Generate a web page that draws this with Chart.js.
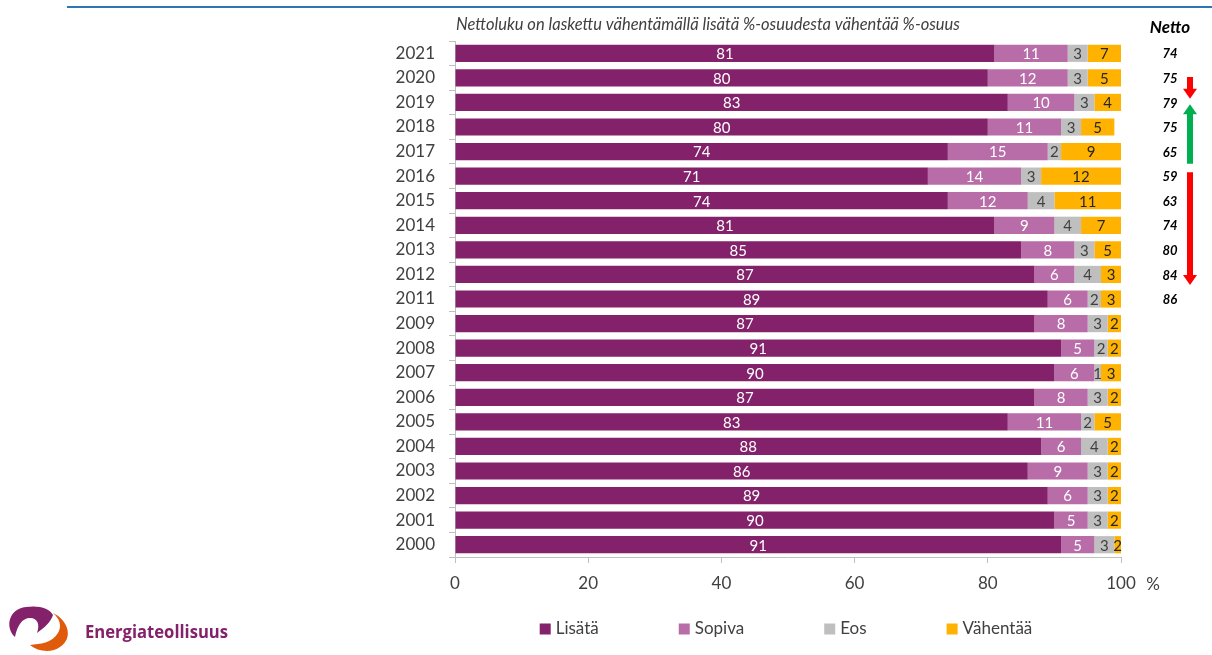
<!DOCTYPE html>
<html>
<head>
<meta charset="utf-8">
<script src="https://cdn.jsdelivr.net/npm/chart.js@4.4.1/dist/chart.umd.min.js"></script>
<style>
html, body { margin: 0; padding: 0; background: #fff; }
#wrap { position: relative; width: 1212px; height: 655px; overflow: hidden; }
#topline { position: absolute; left: 67px; top: 6px; width: 1145px; height: 2px; background: #2f75b5; }
#logo { position: absolute; left: 0; top: 600px; }
canvas { position: absolute; left: 0; top: 0; }
</style>
</head>
<body>
<div id="wrap">
  <canvas id="chart" width="1212" height="655"></canvas>
  <div id="topline"></div>
  <svg id="logo" width="240" height="55" viewBox="0 0 240 55">
    <path d="M15 37 C5 28, 8 9, 26 7 C38 5, 50 8, 53 15 C51 22, 44 28, 37 33 C40 25, 38 18, 30 18 C22 18, 17 26, 15 37 Z" fill="#84216B"/>
    <path d="M53 13 C68 20, 74 38, 60 47 C52 53, 38 52, 30 45 C40 44, 52 43, 58 33 C62 26, 60 19, 53 13 Z" fill="#E05A0C"/>
    <text x="85" y="38" font-family="Open Sans" font-weight="700" font-size="18" fill="#84216B"
          textLength="143" lengthAdjust="spacingAndGlyphs">Energiateollisuus</text>
  </svg>
</div>
<script>
const years    = ['2021','2020','2019','2018','2017','2016','2015','2014','2013','2012','2011',
                  '2009','2008','2007','2006','2005','2004','2003','2002','2001','2000'];
const lisata   = [81, 80, 83, 80, 74, 71, 74, 81, 85, 87, 89, 87, 91, 90, 87, 83, 88, 86, 89, 90, 91];
const sopiva   = [11, 12, 10, 11, 15, 14, 12,  9,  8,  6,  6,  8,  5,  6,  8, 11,  6,  9,  6,  5,  5];
const eos      = [ 3,  3,  3,  3,  2,  3,  4,  4,  3,  4,  2,  3,  2,  1,  3,  2,  4,  3,  3,  3,  3];
const vahentaa = [ 7,  5,  4,  5,  9, 12, 11,  7,  5,  3,  3,  2,  2,  3,  2,  5,  2,  2,  2,  2,  2];
const netto    = [74, 75, 79, 75, 65, 59, 63, 74, 80, 84, 86];   // 2021..2011

const FONT = 'Lato';
const textColor = '#404040';
const axisColor = '#bfbfbf';

// centered value in every bar segment (segments are clipped at 100 %)
const segLabels = {
    id: 'segLabels',
    afterDatasetsDraw(chart) {
        const ctx = chart.ctx;
        const right = chart.chartArea.right;
        ctx.save();
        ctx.font = `15px ${FONT}`;
        ctx.textAlign = 'center';
        ctx.textBaseline = 'middle';
        chart.data.datasets.forEach((ds, i) => {
            chart.getDatasetMeta(i).data.forEach((bar, j) => {
                const { x, y, base } = bar.getProps(['x', 'y', 'base'], true);
                ctx.fillStyle = ds.labelColor;
                ctx.fillText(ds.data[j], (Math.min(x, right) + base) / 2, y + 1);
            });
        });
        ctx.restore();
    },
};

function arrow(ctx, x, y0, y1, color) {
    const dir = Math.sign(y1 - y0);
    const head = 10, hw = 7, sw = 3;
    ctx.fillStyle = color;
    ctx.beginPath();
    ctx.moveTo(x - sw, y0);
    ctx.lineTo(x + sw, y0);
    ctx.lineTo(x + sw, y1 - dir * head);
    ctx.lineTo(x + hw, y1 - dir * head);
    ctx.lineTo(x, y1);
    ctx.lineTo(x - hw, y1 - dir * head);
    ctx.lineTo(x - sw, y1 - dir * head);
    ctx.closePath();
    ctx.fill();
}

// netto column, title texts, arrows, % sign and legend
const extras = {
    id: 'extras',
    afterDraw(chart) {
        const ctx = chart.ctx;
        const ys = chart.scales.y, xs = chart.scales.x;
        const area = chart.chartArea;
        const row = i => ys.getPixelForValue(0) + (ys.getPixelForValue(1) - ys.getPixelForValue(0)) * i;
        ctx.save();

        ctx.fillStyle = textColor;
        ctx.textBaseline = 'middle';
        ctx.textAlign = 'left';
        ctx.font = `italic 16.5px ${FONT}`;
        ctx.fillText('Nettoluku on laskettu vähentämällä lisätä %-osuudesta vähentää %-osuus', area.left + 1, 25);

        ctx.fillStyle = '#000';
        ctx.textAlign = 'center';
        ctx.font = `italic bold 17px ${FONT}`;
        ctx.fillText('Netto', 1170, 28);
        ctx.font = `italic bold 13px ${FONT}`;
        netto.forEach((v, i) => ctx.fillText(v, 1170, row(i) + 1));

        arrow(ctx, 1190, row(0.97), row(1.85), '#ff0000');
        arrow(ctx, 1190, row(4.5), row(2.07), '#00b050');
        arrow(ctx, 1190, row(4.84), row(9.43), '#ff0000');

        ctx.fillStyle = textColor;
        ctx.font = `17px ${FONT}`;
        ctx.fillText('%', xs.getPixelForValue(100) + 32, 585);

        // legend
        const items = chart.data.datasets.map(d => ({ text: d.label, color: d.backgroundColor }));
        const box = 11, gap = 5, pad = 80;
        ctx.font = `17px ${FONT}`;
        const widths = items.map(it => box + gap + ctx.measureText(it.text).width);
        const total = widths.reduce((a, b) => a + b, 0) + pad * (items.length - 1);
        let x = (area.left + area.right) / 2 - 2 - total / 2;
        const ly = 629;
        ctx.textAlign = 'left';
        items.forEach((it, i) => {
            ctx.fillStyle = it.color;
            ctx.fillRect(x, ly - box / 2, box, box);
            ctx.fillStyle = textColor;
            ctx.fillText(it.text, x + box + gap, ly);
            x += widths[i] + pad;
        });

        ctx.restore();
    },
};

const series = [
    ['Lisätä',   lisata,   '#84216b', '#ffffff'],
    ['Sopiva',   sopiva,   '#b86ca8', '#ffffff'],
    ['Eos',      eos,      '#bfbfbf', '#404040'],
    ['Vähentää', vahentaa, '#ffb300', '#262626'],
];

new Chart(document.getElementById('chart'), {
    type: 'bar',
    data: {
        labels: years,
        datasets: series.map(([label, data, color, labelColor]) => ({
            label, data, labelColor,
            backgroundColor: color,
            borderWidth: 0,
            barPercentage: 0.7,
            categoryPercentage: 1,
        })),
    },
    options: {
        indexAxis: 'y',
        responsive: false,
        animation: false,
        layout: { padding: { top: 41, right: 91, left: 0, bottom: 0 } },
        plugins: { legend: { display: false }, tooltip: { enabled: false } },
        scales: {
            x: {
                stacked: true,
                min: 0,
                max: 100,
                ticks: { stepSize: 20, color: textColor, font: { family: FONT, size: 17 }, padding: 10 },
                grid: { drawOnChartArea: false, tickLength: 6, color: axisColor },
                border: { color: axisColor },
                afterFit(scale) { scale.height = 98; },
            },
            y: {
                stacked: true,
                ticks: { color: textColor, font: { family: FONT, size: 17 }, padding: 14 },
                grid: { drawOnChartArea: false, offset: true, tickLength: 6, color: axisColor },
                border: { color: axisColor },
                afterFit(scale) { scale.width = 455; },
            },
        },
    },
    plugins: [segLabels, extras],
});
</script>
</body>
</html>
